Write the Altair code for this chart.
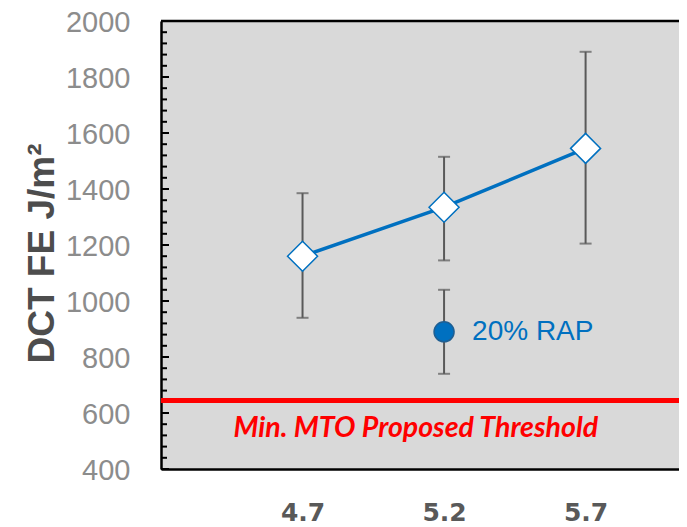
import altair as alt
import pandas as pd

# ---- data ----
pb = [4.7, 5.2, 5.7]
fe_mean = [1160, 1335, 1545]
fe_low = [940, 1145, 1205]
fe_high = [1385, 1515, 1890]

rap_pb = [5.2]
rap_mean = [890]
rap_low = [740]
rap_high = [1040]
rap_label = ["20% RAP"]

threshold = [645]
threshold_label = ["Min. MTO Proposed Threshold"]
threshold_label_x = [5.1]

x_ticks = [4.7, 5.2, 5.7]
major_ticks = list(range(400, 2001, 200))
minor_ticks = list(range(400, 2001, 40))

W, H = 518, 448

main = pd.DataFrame({"pb": pb, "fe": fe_mean, "lo": fe_low, "hi": fe_high})
rap = pd.DataFrame({"pb": rap_pb, "fe": rap_mean, "lo": rap_low, "hi": rap_high, "label": rap_label})
thr = pd.DataFrame({"fe": threshold, "pb": threshold_label_x, "label": threshold_label})
majors = pd.DataFrame({"fe": major_ticks})
minors = pd.DataFrame({"fe": minor_ticks})
one = pd.DataFrame({"k": [0]})

xs = alt.Scale(domain=[4.2, 6.03], nice=False, zero=False)
ys = alt.Scale(domain=[400, 2000], nice=False, zero=False)

x_axis = alt.Axis(
    values=x_ticks, ticks=False, grid=False, title=None,
    labelFont="DejaVu Sans", labelFontSize=25, labelFontWeight="bold",
    labelColor="#595959", labelPadding=31, labelExpr="format(datum.value, '.1f')",
    domainColor="black", domainWidth=2.5,
)
y_axis = alt.Axis(
    values=major_ticks, tickSize=0, grid=False, format="d",
    labelFont="Liberation Sans", labelFontSize=29, labelColor="#8c8c8c", labelPadding=31,
    labelOffset=1,
    domainColor="black", domainWidth=2.5,
    title="DCT FE J/m²", titleFont="Liberation Sans", titleFontSize=37,
    titleFontWeight="bold", titleColor="#4d4d4d", titleAngle=270,
    titleAlign="center", titleBaseline="alphabetic", titleX=-108, titleY=232,
)


def X(field):
    return alt.X(field, type="quantitative", scale=xs, axis=x_axis)


def Y(field):
    return alt.Y(field, type="quantitative", scale=ys, axis=y_axis)


major_layer = alt.Chart(majors).mark_rule(color="black", strokeWidth=2).encode(
    y=Y("fe"), x=alt.value(0), x2=alt.value(8)
)
minor_layer = alt.Chart(minors).mark_rule(color="black", strokeWidth=2).encode(
    y=Y("fe"), x=alt.value(0), x2=alt.value(6)
)
thr_line = alt.Chart(thr).mark_rule(color="#ff0000", strokeWidth=5).encode(y=Y("fe"))
thr_text = alt.Chart(thr).mark_text(
    font="Lato", fontStyle="italic", fontWeight="bold", fontSize=28.5,
    color="#ff0000", align="center", baseline="middle", dy=28,
).encode(x=X("pb"), y=Y("fe"), text="label:N")

err_main = alt.Chart(main).mark_errorbar(ticks=True, size=12, thickness=2, color="#595959").encode(
    x=X("pb"), y=Y("lo"), y2="hi"
)
err_rap = alt.Chart(rap).mark_errorbar(ticks=True, size=12, thickness=2, color="#595959").encode(
    x=X("pb"), y=Y("lo"), y2="hi"
)
line = alt.Chart(main).mark_line(color="#0070C0", strokeWidth=3.5).encode(x=X("pb"), y=Y("fe"))
diamonds = alt.Chart(main).mark_point(
    shape="diamond", filled=True, fill="white", stroke="#0070C0",
    strokeWidth=1.5, size=900, opacity=1,
).encode(x=X("pb"), y=Y("fe"))
rap_pt = alt.Chart(rap).mark_point(
    shape="circle", filled=True, fill="#0070C0", stroke="#1f5f93",
    strokeWidth=1.5, size=400, opacity=1,
).encode(x=X("pb"), y=Y("fe"))
rap_text = alt.Chart(rap).mark_text(
    font="Liberation Sans", fontSize=28, color="#0070C0", align="left",
    baseline="middle", dx=28,
).encode(x=X("pb"), y=Y("fe"), text="label:N")
top_border = alt.Chart(one).mark_rule(color="black", strokeWidth=2.5).encode(
    y=alt.value(0), x=alt.value(0), x2=alt.value(W)
)

chart = alt.layer(
    major_layer, minor_layer, thr_line, thr_text, err_main, err_rap,
    line, diamonds, rap_pt, rap_text, top_border,
).properties(
    width=W, height=H, autosize="none",
    padding={"left": 153, "top": 13, "right": 0, "bottom": 56},
).configure_view(fill="#D9D9D9", strokeWidth=0)

chart.save("out.html", embed_options={"renderer": "svg", "actions": False})
